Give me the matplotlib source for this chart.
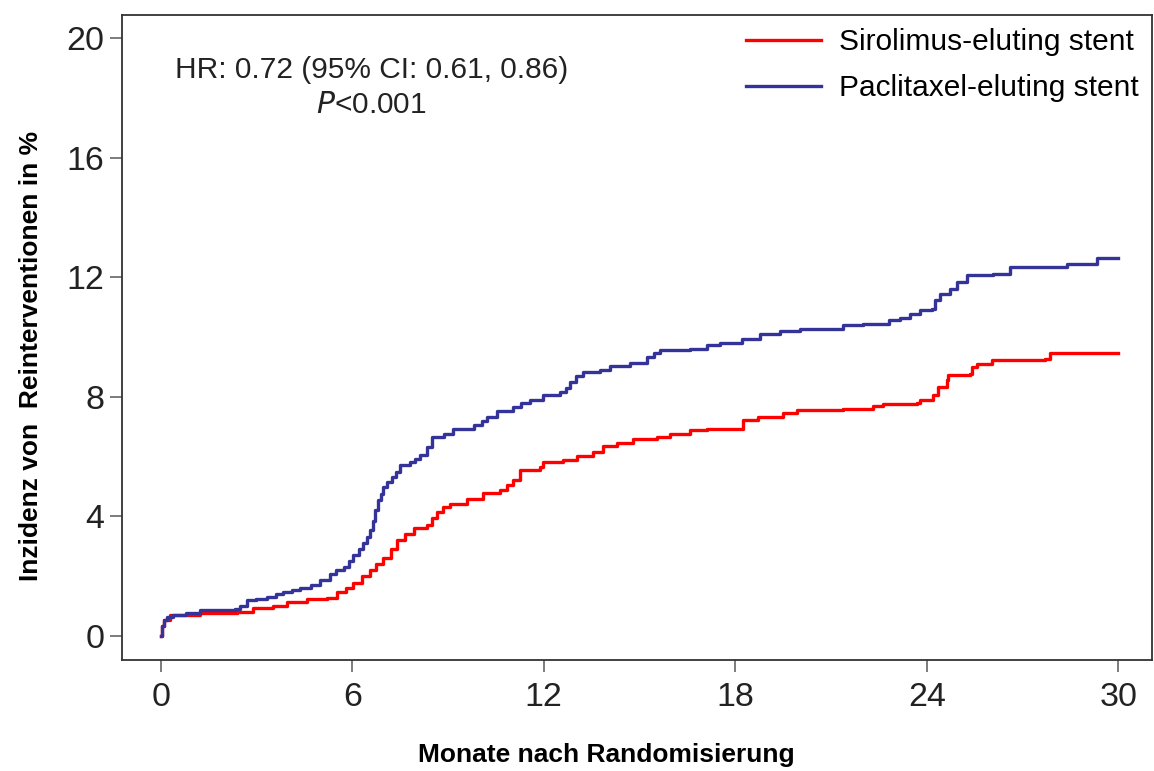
import matplotlib
matplotlib.use("Agg")
from matplotlib import pyplot as plt

plt.rcParams["font.family"] = ["Liberation Sans", "DejaVu Sans"]

# Kaplan-Meier Kurven, Monate / Inzidenz in %
sirolimus_months = [0, 0.05, 0.1, 0.3, 1.24, 2.39, 2.9, 3.2, 3.53, 3.95, 4.58, 5.2, 5.52, 5.8,
                    6.04, 6.3, 6.56, 6.75, 6.98, 7.2, 7.4, 7.65, 7.92, 8.34, 8.5, 8.65,
                    8.85, 9.07, 9.59, 10.11, 10.63, 10.85, 11.05, 11.26, 11.88, 11.99,
                    12.6, 13.03,
                    13.55, 13.87, 14.29, 14.81, 15.54, 15.96, 16.58, 17.1, 18.25, 18.72,
                    19.5, 19.92, 21.38, 22.32, 22.64, 23.68, 23.79, 24.2, 24.36, 24.62,
                    24.67, 25.35, 25.4, 25.56, 26.03, 27.7, 27.86, 30.0]
sirolimus_pct = [0, 0.35, 0.55, 0.7, 0.76, 0.81, 0.93, 0.95, 1.0, 1.15, 1.23, 1.29, 1.48, 1.6,
                 1.76, 2.0, 2.2, 2.4, 2.6, 2.9, 3.21, 3.42, 3.6, 3.71, 3.95, 4.15,
                 4.3, 4.43, 4.6, 4.77, 4.88, 5.05, 5.21, 5.55, 5.66, 5.82,
                 5.88, 6.01,
                 6.16, 6.35, 6.46, 6.6, 6.66, 6.77, 6.88, 6.94, 7.22, 7.33,
                 7.46, 7.55, 7.61, 7.68, 7.75, 7.8, 7.89, 8.05, 8.33, 8.55,
                 8.72, 8.78, 9.0, 9.11, 9.22, 9.28, 9.47, 9.47]

paclitaxel_months = [0, 0.05, 0.09, 0.2, 0.4, 0.8, 1.24, 2.33, 2.5, 2.7, 3.0, 3.33, 3.6,
                     3.84, 4.1, 4.37, 4.7,
                     5.0, 5.32, 5.5, 5.73, 5.9, 6.04, 6.2, 6.35, 6.46, 6.56, 6.64, 6.72,
                     6.82, 6.9, 6.98, 7.1, 7.24, 7.38, 7.5, 7.81, 7.98, 8.13, 8.34, 8.49,
                     8.86, 9.17, 9.8, 10.05, 10.22, 10.53, 11.05, 11.3, 11.57, 11.99,
                     12.51, 12.7, 12.82,
                     13.0, 13.24, 13.76, 14.08, 14.7, 15.23, 15.45, 15.64, 16.58, 17.1,
                     17.52, 18.2, 18.78, 19.4, 20.03, 21.38, 22.0, 22.8, 23.16, 23.47,
                     23.79, 24.15, 24.26, 24.41, 24.73, 24.94, 25.25, 26.08, 26.6, 28.38,
                     29.32, 30.0]
paclitaxel_pct = [0, 0.35, 0.55, 0.65, 0.72, 0.78, 0.87, 0.9, 1.0, 1.2, 1.25, 1.32, 1.4,
                  1.48, 1.53, 1.6, 1.72,
                  1.87, 2.09, 2.2, 2.32, 2.5, 2.71, 2.9, 3.1, 3.3, 3.54, 3.85, 4.21,
                  4.54, 4.75, 4.99, 5.15, 5.32, 5.5, 5.71, 5.82, 5.92, 6.05, 6.33, 6.66,
                  6.77, 6.94, 7.05, 7.2, 7.33, 7.53, 7.66, 7.78, 7.89, 8.05,
                  8.16, 8.3, 8.5,
                  8.7, 8.83, 8.89, 9.02, 9.13, 9.33, 9.45, 9.56, 9.61, 9.72,
                  9.8, 9.95, 10.09, 10.2, 10.26, 10.39, 10.45, 10.56, 10.65, 10.78,
                  10.89, 10.95, 11.23, 11.45, 11.62, 11.84, 12.06, 12.12, 12.34, 12.45,
                  12.65, 12.65]

x_ticks = [0, 6, 12, 18, 24, 30]
y_ticks = [0, 4, 8, 12, 16, 20]

fig = plt.figure(figsize=(11.54, 7.71), dpi=100)
ax = fig.add_axes([122 / 1154, 1 - 660 / 771, 1030 / 1154, 645 / 771])

ax.step(sirolimus_months, sirolimus_pct, where="post", color="#ff0000", lw=2.4,
        label="Sirolimus-eluting stent")
ax.step(paclitaxel_months, paclitaxel_pct, where="post", color="#333399", lw=2.4,
        label="Paclitaxel-eluting stent")

ax.set_xlim(-1.21, 31.05)
ax.set_ylim(-0.8, 20.77)
ax.set_xticks(x_ticks)
ax.set_yticks(y_ticks)
ax.tick_params(direction="out", length=8.6, width=1.2, color="#666666",
               labelsize=24.5, labelcolor="#222222")
ax.tick_params(axis="x", pad=7)
ax.tick_params(axis="y", pad=4)
for sp in ax.spines.values():
    sp.set_color("#333333")
    sp.set_linewidth(1.3)

ax.set_xlabel("Monate nach Randomisierung", fontsize=19, fontweight="bold", labelpad=22)
ax.set_ylabel("Inzidenz von  Reinterventionen in %", fontsize=19, fontweight="bold",
              labelpad=17)
ax.xaxis.label.set_x(0.47)
ax.yaxis.label.set_y(0.471)

ax.text(0.242, 0.915, "HR: 0.72 (95% CI: 0.61, 0.86)", transform=ax.transAxes,
        ha="center", va="center", fontsize=21.5, color="#222222")
ax.text(0.242, 0.86, "$\\mathit{P}$<0.001", transform=ax.transAxes,
        ha="center", va="center", fontsize=21.5, color="#222222")

ax.legend(loc="upper right", bbox_to_anchor=(1.0, 1.0), frameon=False, fontsize=21.5,
          handlelength=2.5, handletextpad=0.6, labelspacing=0.6, borderaxespad=0.05)

fig.savefig("out.png", dpi=100)
